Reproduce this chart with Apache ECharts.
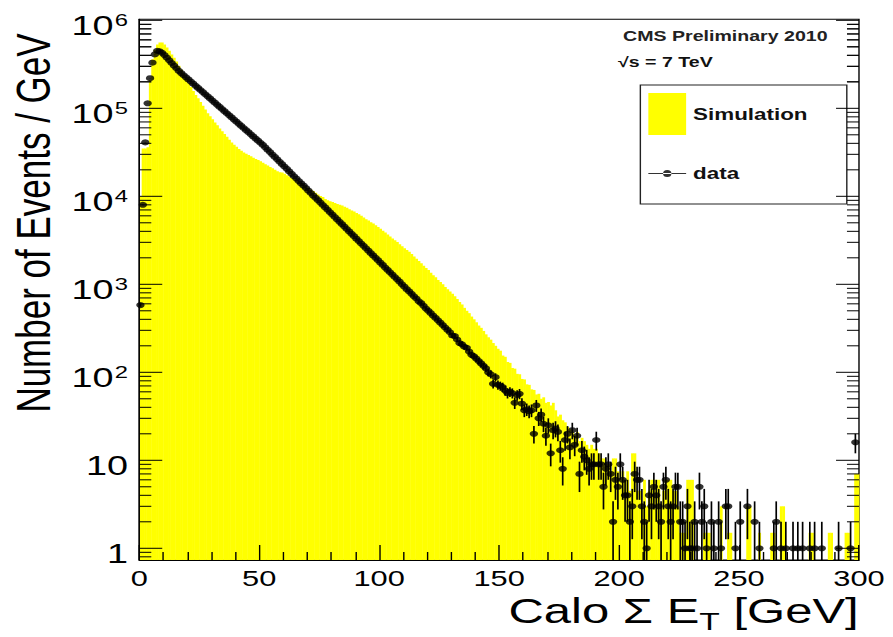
<!DOCTYPE html>
<html>
<head>
<meta charset="utf-8">
<script src="https://cdn.jsdelivr.net/npm/echarts/dist/echarts.min.js"></script>
<style>
html,body{margin:0;padding:0;background:#fff;overflow:hidden;}
#wrap{width:893px;height:637px;overflow:hidden;position:relative;}
#chart{width:638px;height:637px;transform:scaleX(1.39969);transform-origin:0 0;}
</style>
</head>
<body>
<div id="wrap"><div id="chart"></div></div>
<script>
// ---- data (1 GeV bins, bin i covers [i, i+1]) ----
const xTickLabels = ['0', '50', '100', '150', '200', '250', '300'];
const yMajorTicks = [1, 10, 100, 1000, 10000, 100000, 1000000];
const yMinorMultipliers = [2, 3, 4, 5, 6, 7, 8, 9];

const simValues = [
  1.0e4, 3.5e4, 3.5e4, 3.6e4, 2.1e5, 3.6e5, 4.6e5, 5.3e5, 5.6e5, 5.6e5,
  5.3e5, 4.9e5, 4.5e5, 4.1e5, 3.75e5, 3.4e5, 3.05e5, 2.75e5, 2.45e5, 2.2e5,
  1.95e5, 1.75e5, 1.57e5, 1.42e5, 1.3e5, 1.18e5, 1.07e5, 9.7e4, 8.8e4, 8.1e4,
  7.5e4, 6.9e4, 6.4e4, 5.9e4, 5.5e4, 5.1e4, 4.75e4, 4.4e4, 4.1e4, 3.85e4,
  3.65e4, 3.45e4, 3.3e4, 3.15e4, 3.05e4, 2.95e4, 2.85e4, 2.75e4, 2.66e4, 2.58e4,
  2.5e4, 2.4e4, 2.32e4, 2.24e4, 2.16e4, 2.08e4, 2.0e4, 1.93e4, 1.88e4, 1.86e4,
  18000, 17400, 16800, 16200, 15700, 15100, 14600, 14100, 13500, 12900,
  12300, 11900, 11500, 11000, 10500, 10100, 9800, 9300, 9000, 8800,
  8600, 8400, 8200, 8000, 7850, 7600, 7400, 7150, 6900, 6700,
  6450, 6250, 6000, 5750, 5500, 5300, 5070, 4900, 4680, 4470,
  4270, 4070, 3890, 3670, 3500, 3310, 3160, 3020, 2850, 2700,
  2570, 2450, 2340, 2210, 2070, 1950, 1840, 1740, 1620, 1530,
  1450, 1350, 1270, 1200, 1120, 1060, 1000, 930, 880, 830,
  780, 730, 680, 630, 590, 540, 500, 470, 430, 400,
  370, 340, 320, 295, 270, 250, 235, 215, 200, 185,
  176, 155, 150, 131, 128, 112, 110, 96, 95, 84,
  83, 73, 72, 64, 63, 56, 57, 50, 52, 45,
  46, 42, 45, 37, 31.5, 33, 28.5, 27, 24, 22.5,
  21, 19.5, 21, 16.5, 18, 16.5, 15, 13.5, 15, 13.5,
  13.5, 12, 10.5, 10.5, 9, 9, 7.5, 10.5, 10.5, 7.5,
  6, 7.5, 6, 7.5, 4.5, 12, 12, 4.5, 4.5, 3,
  6, 3, 4.5, 6, 6, 6, 6, 3, 4.5, 6,
  6, 6, 4.5, 4.5, 3, 1.5, 1.5, 1.5, 6, 6,
  6, 0, 0, 0, 0, 1.5, 1.5, 1.5, 0, 0,
  0, 0, 3, 0, 0, 1.5, 1.5, 0, 0, 0,
  0, 0, 0, 3, 3, 0, 0, 0, 1.5, 0,
  0, 0, 0, 1.5, 1.5, 0, 0, 3, 3, 0,
  0, 0, 0, 0, 0, 0, 0, 0, 0, 1.5,
  1.5, 0, 0, 0, 0, 0, 0, 1.5, 1.5, 0,
  0, 0, 0, 0, 1.5, 1.5, 0, 0, 7, 7
];

const dataValues = [
  580, 8000, 41000, 114000, 220000, 330000, 410000, 450000, 445000, 427000,
  402700, 375800, 350800, 327300, 305500, 285100, 266100, 251200, 237700, 224900,
  212800, 201400, 190500, 180300, 170600, 161400, 152800, 144500, 136800, 129400,
  122500, 115900, 109600, 103800, 98200, 92900, 87900, 83200, 78700, 74500,
  70500, 66700, 63100, 59700, 56500, 53500, 50600, 47900, 45300, 42900,
  40600, 38400, 36000, 33800, 31800, 29800, 28000, 26300, 24700, 23200,
  21800, 20500, 19200, 18000, 16900, 15900, 14900, 14000, 13200, 12400,
  11600, 10900, 10200, 9620, 9040, 8480, 7960, 7480, 7030, 6590,
  6200, 5820, 5460, 5130, 4820, 4530, 4250, 3990, 3750, 3520,
  3300, 3100, 2910, 2740, 2570, 2410, 2260, 2130, 2000, 1880,
  1760, 1660, 1550, 1460, 1370, 1290, 1210, 1140, 1070, 1000,
  940, 880, 830, 780, 730, 690, 640, 610, 570, 530,
  500, 470, 440, 415, 390, 366, 344, 323, 303, 285,
  262, 258, 236, 215, 208, 195, 190, 172, 158, 152,
  143, 134, 126, 118, 111, 100, 95, 74, 88, 72,
  70, 68, 62, 58, 60, 58, 45, 55, 57, 44,
  37, 38, 36, 37, 20, 42, 30, 33, 26, 19,
  25, 12, 22, 23, 21, 13, 8, 17, 20, 14,
  22, 15, 19, 7, 13, 11, 10, 8, 9, 9,
  17, 9, 9, 5, 8, 9, 7, 2, 6, 5,
  9, 6, 4, 4, 2, 3, 7, 6, 6, 3,
  2, 1, 4, 3, 5, 4, 3, 2, 5, 6,
  3, 2, 3, 5, 5, 2, 2, 1, 3, 1,
  1, 2, 1, 5, 2, 3, 1, null, 2, 1,
  null, 2, 1, null, 3, 3, null, null, 1, null,
  2, null, null, 3, null, null, 2, null, 1, null,
  null, null, null, null, 1, 2, null, 1, null, 1,
  null, null, 1, null, 1, null, 1, null, null, 1,
  null, 1, null, null, 1, null, null, null, null, null,
  null, 1, null, null, null, null, 1, null, 16, null
];

// ---- build series data ----
const simData = simValues.map((v, i) => [i, i + 1, v]);
const dataPoints = [];
dataValues.forEach((v, i) => { if (v !== null) dataPoints.push([i + 0.5, v]); });
const yTicks = [];
yMajorTicks.forEach(t => {
  yTicks.push([0, t, 1]);
  yMinorMultipliers.forEach(m => { const v = m * t / 10; if (v >= 0.74) yTicks.push([0, v, 0]); });
});
yMinorMultipliers.forEach(m => { const v = m * 1e5; yTicks.push([0, v, 0]); });

const FONT = '"Liberation Sans", Arial, Helvetica, sans-serif';
const chart = echarts.init(document.getElementById('chart'), null, { renderer: 'svg' });

const option = {
  animation: false,
  backgroundColor: '#ffffff',
  grid: {
    left: 99.5, right: 24.3, top: 19.3, bottom: 77,
    show: true, borderColor: '#000', borderWidth: 1, backgroundColor: 'transparent',
    containLabel: false, outerBoundsMode: 'none'
  },
  xAxis: {
    type: 'value', min: 0, max: 300, interval: 50, z: 10,
    axisLine: { show: true, onZero: false, lineStyle: { color: '#000', width: 1 } },
    axisTick: { show: true, inside: true, length: 15, lineStyle: { color: '#000', width: 1 } },
    minorTick: { show: true, splitNumber: 5, length: 8, lineStyle: { color: '#000', width: 1 } },
    splitLine: { show: false }, minorSplitLine: { show: false },
    axisLabel: {
      color: '#000', fontFamily: FONT, fontSize: 22, margin: 8,
      formatter: v => xTickLabels[Math.round(v / 50)] || ''
    }
  },
  yAxis: {
    type: 'log', logBase: 10, min: 0.736, max: 1.027e6, z: 10,
    axisLine: { show: true, lineStyle: { color: '#000', width: 1 } },
    axisTick: { show: false }, minorTick: { show: false },
    splitLine: { show: false }, minorSplitLine: { show: false },
    axisLabel: {
      margin: 8, color: '#000', padding: [10, 0, 0, 0],
      formatter: function (v) {
        const e = Math.log10(v);
        const r = Math.round(e);
        if (Math.abs(e - r) > 1e-6) return '';
        if (r === 0) return '{b|1}';
        if (r === 1) return '{b|10}';
        return '{b|10}{s|' + r + '}';
      },
      rich: {
        b: { fontFamily: FONT, fontSize: 27, color: '#000', lineHeight: 27 },
        s: { fontFamily: FONT, fontSize: 17, color: '#000', verticalAlign: 'top', lineHeight: 15, padding: [0, 0, 0, 1] }
      }
    }
  },
  legend: [
    {
      data: [{ name: 'Simulation', icon: 'rect' }],
      left: 463.2, top: 93, padding: 0, itemWidth: 27, itemHeight: 42, itemGap: 0,
      selectedMode: false, z: 6,
      textStyle: { fontFamily: FONT, fontSize: 16, fontWeight: 'bold', color: '#111', padding: [0, 0, 0, 0] }
    },
    {
      data: [{ name: 'data', icon: 'path://M0,3.05L27,3.05L27,3.95L0,3.95Z M10.5,3.5A3,3.5 0 1 0 16.5,3.5A3,3.5 0 1 0 10.5,3.5Z' }],
      left: 463.2, top: 165.5, padding: 0, itemWidth: 27, itemHeight: 7, itemGap: 0,
      selectedMode: false, z: 6,
      textStyle: { fontFamily: FONT, fontSize: 16, fontWeight: 'bold', color: '#111' }
    }
  ],
  graphic: [
    { type: 'rect', z: 5, shape: { x: 457.5, y: 85, width: 147.5, height: 119 },
      style: { fill: '#fff', stroke: '#222', lineWidth: 1 } },
    { type: 'text', z: 5, x: 445.1, y: 29,
      style: { text: 'CMS Preliminary 2010', font: 'bold 14px ' + FONT, fill: '#222', verticalAlign: 'top' } },
    { type: 'text', z: 5, x: 441.5, y: 55,
      style: { text: '√s = 7 TeV', font: 'bold 14px ' + FONT, fill: '#111', verticalAlign: 'top' } },
    { type: 'text', z: 5, x: 23.6, y: 223, rotation: Math.PI / 2,
      style: { text: 'Number of Events / GeV', font: '35px ' + FONT, fill: '#000', align: 'center', verticalAlign: 'middle' } },
    { type: 'text', z: 5, x: 613.5, y: 611,
      style: {
        text: '{n|Calo Σ E}{t|T}{n| [GeV]}', align: 'right', verticalAlign: 'middle',
        rich: {
          n: { font: '35px ' + FONT, fill: '#000', lineHeight: 46 },
          t: { font: '24px ' + FONT, fill: '#000', lineHeight: 24, verticalAlign: 'bottom' }
        }
      } }
  ],
  series: [
    {
      name: 'Simulation', type: 'custom', z: 2, silent: true,
      itemStyle: { color: '#ffff00' },
      encode: { x: [0, 1], y: 2 },
      data: simData,
      renderItem: function (params, api) {
        const v = api.value(2);
        if (!(v > 0)) return null;
        const cs = params.coordSys;
        const p0 = api.coord([api.value(0), v]);
        const p1 = api.coord([api.value(1), v]);
        const bottom = cs.y + cs.height;
        const top = Math.max(p0[1], cs.y);
        return { type: 'rect', shape: { x: p0[0], y: top, width: p1[0] - p0[0] + 0.3, height: bottom - top },
          style: { fill: '#ffff00' } };
      }
    },
    {
      name: 'errors', type: 'custom', z: 3, silent: true,
      encode: { x: 0, y: 1 },
      data: dataPoints,
      renderItem: function (params, api) {
        const x = api.value(0), v = api.value(1);
        const cs = params.coordSys;
        const err = Math.sqrt(v);
        const hi = api.coord([x, v + err]);
        const lo = v - err > 0.736 ? api.coord([x, v - err])[1] : cs.y + cs.height;
        return { type: 'line', shape: { x1: hi[0], y1: Math.max(hi[1], cs.y), x2: hi[0], y2: lo },
          style: { stroke: '#000', lineWidth: 1.2 } };
      }
    },
    {
      name: 'data', type: 'scatter', z: 4, silent: true,
      symbol: 'circle', symbolSize: 6,
      itemStyle: { color: '#000' },
      data: dataPoints
    },
    {
      name: 'yticks', type: 'custom', z: 8, silent: true,
      encode: { x: 0, y: 1 },
      data: yTicks,
      renderItem: function (params, api) {
        const v = api.value(1), major = api.value(2);
        const cs = params.coordSys;
        const y = api.coord([0, v])[1];
        const len = major ? 16.4 : 8.6;
        return { type: 'group', children: [
          { type: 'line', shape: { x1: cs.x, y1: y, x2: cs.x + len, y2: y }, style: { stroke: '#000', lineWidth: 1 } },
          { type: 'line', shape: { x1: cs.x + cs.width, y1: y, x2: cs.x + cs.width - len, y2: y }, style: { stroke: '#000', lineWidth: 1 } }
        ] };
      }
    }
  ]
};
chart.setOption(option);
</script>
</body>
</html>
